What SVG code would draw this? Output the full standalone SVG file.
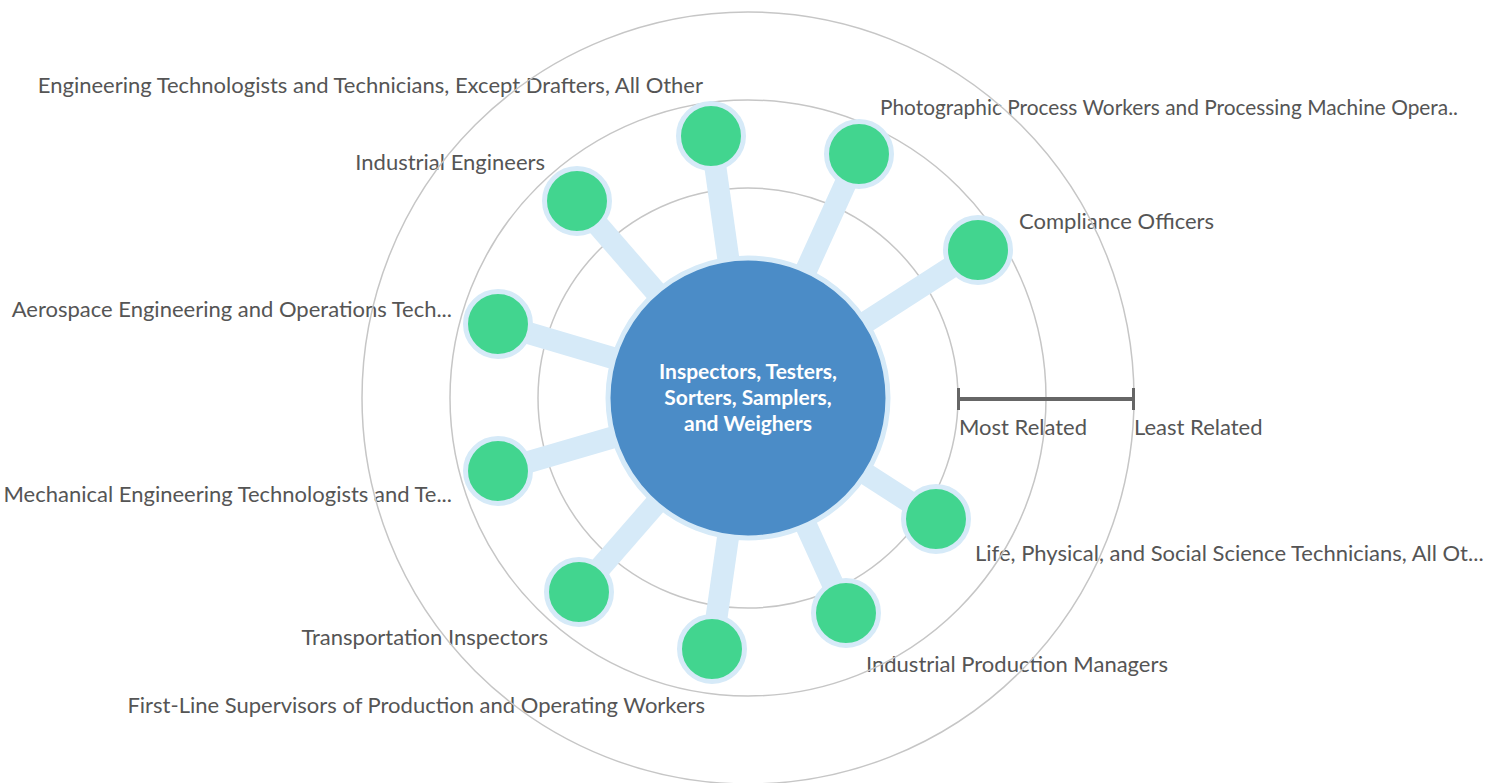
<svg xmlns="http://www.w3.org/2000/svg" width="1489" height="783" viewBox="0 0 1489 783">
<style>
.lbl{font-family:Lato,"Noto Sans","Liberation Sans",sans-serif;font-size:22px;fill:#555}
.l{text-anchor:end}
.ring{fill:none;stroke:#c6c6c6;stroke-width:1.5}
.edge{stroke:#d6eaf8;stroke-width:22}
.node{fill:#42d58f;stroke:#d6eaf8;stroke-width:5}
.ctr{fill:#4b8cc7;stroke:#d6eaf8;stroke-width:5}
.ctxt{font-family:Lato,"Noto Sans","Liberation Sans",sans-serif;font-size:21px;font-weight:bold;fill:#fff;text-anchor:middle}
.scale{stroke:#666;fill:none}
</style>
<rect width="1489" height="783" fill="#fff"/>
<g id="labels">
<text class="lbl l" x="703" y="93">Engineering Technologists and Technicians, Except Drafters, All Other</text>
<text class="lbl l" x="545" y="170">Industrial Engineers</text>
<text class="lbl l" x="452" y="317">Aerospace Engineering and Operations Tech...</text>
<text class="lbl l" x="452" y="502">Mechanical Engineering Technologists and Te...</text>
<text class="lbl l" x="548" y="645">Transportation Inspectors</text>
<text class="lbl l" x="705" y="713">First-Line Supervisors of Production and Operating Workers</text>
<text class="lbl" x="880" y="115" textLength="578" lengthAdjust="spacingAndGlyphs">Photographic Process Workers and Processing Machine Opera..</text>
<text class="lbl" x="1019" y="229">Compliance Officers</text>
<text class="lbl" x="975" y="561">Life, Physical, and Social Science Technicians, All Ot...</text>
<text class="lbl" x="866" y="672">Industrial Production Managers</text>
</g>
<g id="rings">
<circle class="ring" cx="748" cy="398" r="210"/>
<circle class="ring" cx="748" cy="398" r="298"/>
<circle class="ring" cx="748" cy="398" r="386"/>
</g>
<g id="scale">
<line class="scale" x1="958" y1="399" x2="1134" y2="399" stroke-width="4"/>
<line class="scale" x1="958.5" y1="388" x2="958.5" y2="410" stroke-width="3"/>
<line class="scale" x1="1133.5" y1="388" x2="1133.5" y2="410" stroke-width="3"/>
<text class="lbl" x="959" y="435">Most Related</text>
<text class="lbl" x="1134" y="435">Least Related</text>
</g>
<g id="connectors">
<line class="edge" x1="748" y1="398" x2="711" y2="136"/>
<line class="edge" x1="748" y1="398" x2="859" y2="154"/>
<line class="edge" x1="748" y1="398" x2="978" y2="250"/>
<line class="edge" x1="748" y1="398" x2="936" y2="519"/>
<line class="edge" x1="748" y1="398" x2="846" y2="613"/>
<line class="edge" x1="748" y1="398" x2="712" y2="649"/>
<line class="edge" x1="748" y1="398" x2="579" y2="592"/>
<line class="edge" x1="748" y1="398" x2="498" y2="471"/>
<line class="edge" x1="748" y1="398" x2="498" y2="324"/>
<line class="edge" x1="748" y1="398" x2="577" y2="201"/>
</g>
<g id="n-center">
<circle class="ctr" cx="748" cy="398" r="140"/>
<text class="ctxt" x="748" y="379">Inspectors, Testers,</text>
<text class="ctxt" x="748" y="405">Sorters, Samplers,</text>
<text class="ctxt" x="748" y="431">and Weighers</text>
</g>
<g id="n-engtech"><circle class="node" cx="711" cy="136" r="32.5"/></g>
<g id="n-photo"><circle class="node" cx="859" cy="154" r="32.5"/></g>
<g id="n-compliance"><circle class="node" cx="978" cy="250" r="32.5"/></g>
<g id="n-life"><circle class="node" cx="936" cy="519" r="32.5"/></g>
<g id="n-indprod"><circle class="node" cx="846" cy="613" r="32.5"/></g>
<g id="n-firstline"><circle class="node" cx="712" cy="649" r="32.5"/></g>
<g id="n-transport"><circle class="node" cx="579" cy="592" r="32.5"/></g>
<g id="n-mech"><circle class="node" cx="498" cy="471" r="32.5"/></g>
<g id="n-aero"><circle class="node" cx="498" cy="324" r="32.5"/></g>
<g id="n-indeng"><circle class="node" cx="577" cy="201" r="32.5"/></g>
</svg>
